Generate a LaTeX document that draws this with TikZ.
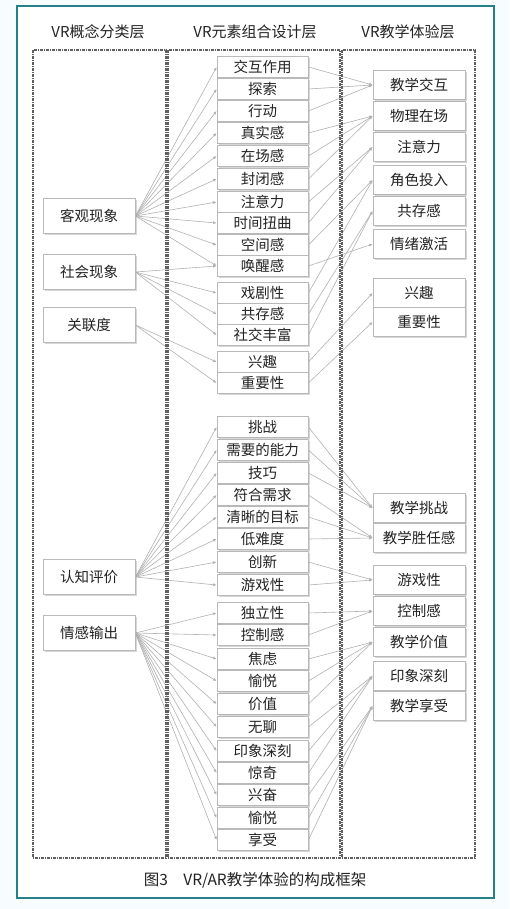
\documentclass[tikz,border=0pt]{standalone}
\usepackage{fontspec}
\setmainfont{Noto Sans CJK SC}
\setsansfont{Noto Sans CJK SC}
\usetikzlibrary{shadows,arrows.meta}
\pgfdeclarelayer{back}
\pgfdeclarelayer{bg}
\pgfsetlayers{back,bg,main}
\definecolor{frameteal}{RGB}{38,128,136}
\definecolor{txt}{RGB}{35,35,35}
\begin{document}
\begin{tikzpicture}[x=1pt,y=-1pt,
  boxbase/.style={draw=gray!55, line width=0.8pt, fill=white, inner sep=0pt,
    text=txt, font=\fontsize{14.5}{16}\selectfont,
    drop shadow={shadow xshift=1.5pt,shadow yshift=-1.5pt,fill=gray!70,opacity=0.45}},
  midbox/.style={boxbase, minimum width=91pt, minimum height=21pt},
  rightbox/.style={boxbase, minimum width=92pt, minimum height=29pt},
  leftbox/.style={boxbase, minimum width=92pt, minimum height=35pt},
  head/.style={text=txt, font=\fontsize{15}{17}\selectfont},
  colframe/.style={draw=gray!75!black, line width=1.2pt, dash pattern=on 3pt off 1pt on 1pt off 1pt},
  link/.style={draw=gray!60, line width=0.6pt, -{Latex[length=3.5pt,width=3pt]}}]
\useasboundingbox (0,0) rectangle (509,909);
\begin{pgfonlayer}{back}
\fill[cyan!3] (0,0) rectangle (509,909);
\draw[frameteal, line width=2.8pt, fill=white] (17,6) rectangle (494,898);
\end{pgfonlayer}
% headers
\node[head] (h1) at (98,32) {VR概念分类层};
\node[head] (h2) at (255,32) {VR元素组合设计层};
\node[head] (h3) at (408,32) {VR教学体验层};
% column frames
\draw[colframe] (33,50) rectangle (166,858);
\draw[colframe] (168,50) rectangle (340,858);
\draw[colframe] (342,50) rectangle (475,858);
% left boxes
\foreach \n/\y/\t in {L1/216/客观现象, L2/272/社会现象, L3/325/关联度, L4/577/认知评价, L5/633/情感输出}
  \node[leftbox] (\n) at (89,\y) {\t};
% middle boxes
\foreach \n/\y/\t in {m1/67/交互作用, m2/89/探索, m3/111/行动, m4/133/真实感, m5/156/在场感, m6/179/封闭感,
  m7/202/注意力, m8/223/时间扭曲, m9/245/空间感, m10/266/唤醒感, m11/293/戏剧性, m12/314/共存感,
  m13/335/社交丰富, m14/362/兴趣, m15/383/重要性}
  \node[midbox] (\n) at (262.5,\y) {\t};
\foreach \n/\y/\t in {b1/427/挑战, b2/450/需要的能力, b3/473/技巧, b4/495/符合需求, b5/517/清晰的目标,
  b6/539/低难度, b7/562/创新, b8/585/游戏性, b9/613/独立性, b10/635/控制感, b11/659/焦虑,
  b12/681/愉悦, b13/704/价值, b14/727/无聊, b15/751/印象深刻, b16/773/惊奇, b17/795/兴奋,
  b18/818/愉悦, b19/840/享受}
  \node[midbox] (\n) at (262.5,\y) {\t};
% right boxes
\foreach \n/\y/\t in {R1/85/教学交互, R2/116/物理在场, R3/147/注意力, R4/180/角色投入, R5/211/共存感,
  R6/244/情绪激活, R7/293/兴趣, R8/322/重要性, R9/508/教学挑战, R10/538/教学胜任感,
  R11/580/游戏性, R12/611/控制感, R13/642/教学价值, R14/676/印象深刻, R15/706/教学享受}
  \node[rightbox] (\n) at (419,\y) {\t};
% caption
\node[head, font=\fontsize{15.5}{17}\selectfont] (cap) at (255,880) {图3\quad VR/AR教学体验的构成框架};
% connectors
\begin{pgfonlayer}{bg}
\foreach \a/\b in {L1/m1,L1/m2,L1/m3,L1/m4,L1/m5,L1/m6,L1/m7,L1/m8,L1/m9,L1/m10,
  L2/m10,L2/m11,L2/m12,L2/m13,L3/m14,L3/m15,
  L4/b1,L4/b2,L4/b3,L4/b4,L4/b5,L4/b6,L4/b7,L4/b8,
  L5/b9,L5/b10,L5/b11,L5/b12,L5/b13,L5/b14,L5/b15,L5/b16,L5/b17,L5/b18,L5/b19}
  \draw[link] (\a.east) -- (\b.west);
\foreach \a/\b in {m1/R1,m2/R1,m3/R1,m4/R2,m5/R2,m6/R2,m7/R3,m8/R3,m9/R4,m11/R4,
  m12/R5,m13/R5,m10/R6,m14/R7,m15/R8,
  b1/R9,b2/R9,b3/R9,b4/R10,b5/R10,b6/R10,b7/R11,b8/R11,b9/R12,b10/R12,
  b11/R13,b12/R13,b13/R13,b14/R14,b15/R14,b16/R14,b17/R15,b18/R15,b19/R15}
  \draw[link] (\a.east) -- (\b.west);
\end{pgfonlayer}
\end{tikzpicture}
\end{document}
